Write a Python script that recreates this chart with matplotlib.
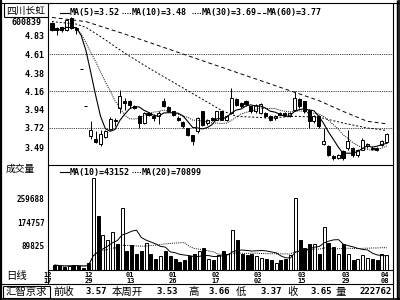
import matplotlib

matplotlib.use("Agg")

import matplotlib.pyplot as plt  # noqa: E402
import numpy as np  # noqa: E402
import pandas as pd  # noqa: E402

MONO = ["DejaVu Sans Mono", "Noto Sans CJK SC"]
CJK = ["Noto Sans CJK SC", "DejaVu Sans"]

# Daily candles, one entry per trading day (left to right).
opens = [4.98, 4.92, 4.93, 4.90, 5.04, 4.92, 4.43, 3.99, 3.62, 3.59,
         3.53, 3.61, 3.71, 3.82, 3.96, 4.05, 4.04, 3.99, 3.86, 3.78,
         3.90, 3.86, 3.86, 4.05, 3.97, 3.92, 3.84, 3.79, 3.72, 3.64,
         3.68, 3.92, 3.78, 3.84, 3.82, 3.92, 3.81, 3.90, 4.07, 4.02,
         4.05, 3.98, 3.92, 3.90, 3.90, 3.86, 3.84, 3.90, 3.90, 3.86,
         3.94, 4.07, 4.04, 3.94, 3.80, 3.86, 3.53, 3.50, 3.38, 3.36,
         3.44, 3.48, 3.48, 3.40, 3.46, 3.50, 3.48, 3.48, 3.52, 3.55]
closes = [4.90, 4.90, 4.90, 5.02, 4.92, 4.90, 4.43, 3.99, 3.69, 3.55,
          3.65, 3.68, 3.83, 3.80, 4.10, 4.02, 4.00, 3.96, 3.78, 3.90,
          3.88, 3.84, 3.90, 3.98, 3.92, 3.87, 3.82, 3.74, 3.64, 3.56,
          3.84, 3.76, 3.82, 3.82, 3.92, 3.82, 3.86, 4.08, 4.00, 3.98,
          4.01, 3.92, 4.00, 4.01, 3.86, 3.82, 3.86, 3.88, 3.87, 3.90,
          4.08, 3.98, 3.92, 3.80, 3.86, 3.74, 3.56, 3.40, 3.36, 3.40,
          3.36, 3.56, 3.40, 3.46, 3.58, 3.53, 3.47, 3.46, 3.56, 3.65]
highs = [4.99, 4.93, 4.94, 5.03, 5.05, 4.93, 4.43, 3.99, 3.80, 3.68,
         3.70, 3.70, 3.85, 3.84, 4.18, 4.08, 4.06, 4.00, 3.87, 3.91,
         3.91, 3.89, 3.92, 4.08, 3.98, 3.93, 3.86, 3.80, 3.72, 3.64,
         3.85, 3.93, 3.83, 3.85, 3.93, 3.93, 3.87, 4.20, 4.08, 4.03,
         4.06, 3.99, 4.01, 4.02, 3.91, 3.87, 3.87, 3.91, 3.91, 3.91,
         4.16, 4.08, 4.05, 3.95, 3.87, 3.87, 3.72, 3.51, 3.39, 3.41,
         3.45, 3.70, 3.49, 3.47, 3.60, 3.54, 3.50, 3.49, 3.57, 3.66]
lows = [4.89, 4.84, 4.88, 4.89, 4.91, 4.85, 4.43, 3.99, 3.59, 3.54,
        3.50, 3.60, 3.70, 3.74, 3.90, 3.94, 3.96, 3.95, 3.72, 3.77,
        3.86, 3.80, 3.77, 3.97, 3.91, 3.86, 3.80, 3.72, 3.62, 3.52,
        3.66, 3.74, 3.76, 3.80, 3.81, 3.81, 3.80, 3.89, 3.98, 3.96,
        3.99, 3.90, 3.90, 3.89, 3.84, 3.80, 3.82, 3.87, 3.86, 3.85,
        3.92, 3.96, 3.90, 3.72, 3.78, 3.72, 3.51, 3.38, 3.34, 3.35,
        3.34, 3.46, 3.37, 3.37, 3.45, 3.48, 3.45, 3.44, 3.50, 3.54]
volumes = [18, 14, 12, 16, 20, 14, 8, 25, 336, 197,
           128, 110, 140, 95, 225, 70, 90, 60, 70, 100,
           60, 40, 50, 70, 50, 40, 30, 35, 50, 60,
           70, 80, 40, 35, 55, 70, 60, 146, 110, 60,
           55, 60, 50, 45, 40, 35, 25, 35, 40, 55,
           262, 110, 80, 95, 95, 60, 158, 100, 85, 60,
           95, 60, 35, 40, 55, 45, 40, 35, 60, 55]  # thousand shares

# Longer moving averages (index, value).
ma30_idx = [0, 5, 7, 10, 15, 20, 25, 30, 35, 38, 45, 50, 55, 60, 65, 69]
ma30_val = [5.00, 4.97, 4.93, 4.82, 4.62, 4.44, 4.27, 4.10, 3.93, 3.86,
            3.84, 3.86, 3.85, 3.78, 3.72, 3.69]
ma60_idx = [0, 7, 15, 25, 35, 45, 55, 60, 65, 69]
ma60_val = [5.05, 5.00, 4.85, 4.65, 4.45, 4.25, 4.05, 3.92, 3.80, 3.77]

price_ticks = [4.83, 4.61, 4.38, 4.16, 3.94, 3.72, 3.49]
price_grid = [4.61, 4.16, 3.72]
volume_ticks = [259688, 174757, 89825]
date_pos = [-1.4, 7.0, 15.7, 24.5, 33.4, 42.3, 51.3, 60.6, 68.7]
date_labels = ["12\n17", "12\n29", "01\n13", "01\n26", "02\n17",
               "03\n02", "03\n15", "03\n29", "04\n08"]

legend_price = ["MA(5)=3.52", "MA(10)=3.48", "MA(30)=3.69", "MA(60)=3.77"]
legend_volume = ["MA(10)=43152", "MA(20)=70899"]
status_items = [("前收", "3.57"), ("本周开", "3.53"), ("高", "3.66"),
                ("低", "3.37"), ("收", "3.65"), ("量", "222762")]

W, H = 400, 300


def rect(x0, y0, x1, y1):
    """Figure-fraction rectangle from pixel box (origin top-left)."""
    return [x0 / W, 1 - y1 / H, (x1 - x0) / W, (y1 - y0) / H]


fig = plt.figure(figsize=(4, 3), dpi=100, facecolor="white")

# pixel geometry of the panels
PX0, PX1 = 48, 393
STEP, FIRST = 4.85, 52
xlim = ((PX0 - FIRST) / STEP, (PX1 - FIRST) / STEP)

o = np.array(opens)
c = np.array(closes)
h = np.array(highs)
lo = np.array(lows)
v = np.array(volumes) * 1000.0
x = np.arange(len(c))
up = c > o
flat = c == o
down = c < o

# ---- price panel
ax = fig.add_axes(rect(PX0, 3, PX1, 165))
ax.set_xlim(*xlim)
ax.set_ylim(4.61 - (165 - 54) / 83.1, 4.61 + (54 - 3) / 83.1)
for level in price_grid:
    ax.axhline(level, color="black", lw=0.6, ls=(0, (1, 1.2)), zorder=1)

ax.vlines(x, lo, h, color="black", lw=0.7, zorder=2)
ax.bar(x[up], (c - o)[up], bottom=o[up], width=0.62, facecolor="white",
       edgecolor="black", lw=0.7, zorder=3)
ax.bar(x[down], (o - c)[down], bottom=c[down], width=0.62, facecolor="black",
       edgecolor="black", lw=0.7, zorder=3)
ax.hlines(c[flat], x[flat] - 0.31, x[flat] + 0.31, color="black", lw=0.8, zorder=3)

closes_s = pd.Series(c)
ax.plot(x, closes_s.rolling(5, min_periods=1).mean(), color="black", lw=0.8, zorder=4)
ax.plot(x, closes_s.rolling(10, min_periods=1).mean(), color="black", lw=0.7,
        ls=(0, (1, 1.2)), zorder=4)
ax.plot(ma30_idx, ma30_val, color="black", lw=0.7, ls=(0, (2, 2)), zorder=4)
ax.plot(ma60_idx, ma60_val, color="black", lw=0.7, ls=(0, (4, 3)), zorder=4)

ax.set_xticks([])
ax.set_yticks(price_ticks)
ax.set_yticklabels([f"{t:.2f}" for t in price_ticks], family=MONO,
                   fontsize=6, fontweight="bold")
ax.tick_params(axis="y", length=0, pad=2.5)
for side in ax.spines.values():
    side.set_visible(False)

# ---- volume panel
axv = fig.add_axes(rect(PX0, 165, PX1, 270))
axv.set_xlim(*xlim)
axv.set_ylim(0, 105 * 3645)
axv.bar(x[up], v[up], width=0.62, facecolor="white", edgecolor="black", lw=0.7)
axv.bar(x[~up], v[~up], width=0.62, facecolor="black", edgecolor="black", lw=0.7)
vol_s = pd.Series(v)
axv.plot(x, vol_s.rolling(10, min_periods=1).mean(), color="black", lw=0.7)
axv.plot(x, vol_s.rolling(20, min_periods=1).mean(), color="black", lw=0.7,
         ls=(0, (1, 1.2)))
axv.set_yticks(volume_ticks)
axv.set_yticklabels([str(t) for t in volume_ticks], family=MONO,
                    fontsize=5.5, fontweight="bold")
axv.set_xticks(date_pos)
axv.set_xticklabels(date_labels, family=MONO, fontsize=5, fontweight="bold",
                    linespacing=0.95)
axv.tick_params(axis="y", length=0, pad=2.5)
axv.tick_params(axis="x", length=0, pad=1.5)
for side in axv.spines.values():
    side.set_visible(False)

# ---- overlay with frames and fixed texts (pixel coordinates)
ov = fig.add_axes([0, 0, 1, 1])
ov.set_xlim(0, W)
ov.set_ylim(H, 0)
ov.axis("off")
ov.patch.set_visible(False)


def line(x0, y0, x1, y1, lw=0.8):
    ov.plot([x0, x1], [y0, y1], color="black", lw=lw, solid_capstyle="butt")


line(0.8, 0, 0.8, H, lw=1.6)
line(0, 2.5, W, 2.5)
line(0, 299.3, W, 299.3, lw=1.2)
line(PX0, 2.5, PX0, 284)
line(PX0, 165, PX1, 165)
line(PX0, 270, PX1, 270)
line(PX1, 2.5, PX1, 299)
line(396.5, 0, 396.5, H, lw=1.0)
line(399.4, 0, 399.4, H, lw=1.2)
line(0, 284, PX1, 284)
# stock name box
line(4, 2.5, 4, 17)
line(4, 17, PX0, 17)
# status name box
line(3, 285.5, 50, 285.5)
line(3, 297.5, 50, 297.5)
line(3, 285.5, 3, 297.5)
line(50, 285.5, 50, 297.5)

ov.text(25.5, 10.5, "四川长虹", family=CJK, fontsize=7, ha="center", va="center")
ov.text(27, 22.5, "600839", family=MONO, fontsize=6, fontweight="bold",
        ha="center", va="center")
ov.text(6, 168.5, "成交量", family=CJK, fontsize=7, ha="left", va="center")
ov.text(6, 276, "日线", family=CJK, fontsize=7.5, ha="left", va="center")

# price legend
leg_x = [60, 122, 192, 257]
leg_style = ["-", (0, (1, 1.2)), (0, (1, 1.2)), (0, (3, 2))]
for lx, style, label in zip(leg_x, leg_style, legend_price):
    ov.plot([lx, lx + 9], [13, 13], color="black", lw=0.8, ls=style)
    ov.text(lx + 10, 13, label, family=MONO, fontsize=6, fontweight="bold",
            ha="left", va="center")

# volume legend
for lx, style, label in zip([60, 132], ["-", (0, (1, 1.2))], legend_volume):
    ov.plot([lx, lx + 9], [172, 172], color="black", lw=0.8, ls=style)
    ov.text(lx + 10, 172, label, family=MONO, fontsize=6, fontweight="bold",
            ha="left", va="center")

# status bar
ov.text(26.5, 291.5, "汇智京求", family=CJK, fontsize=7.5, ha="center", va="center")
name_x = [53, 112, 188, 236, 287, 336]
value_right = [107, 178, 230, 282, 332, 392]
for nx, vr, (name, value) in zip(name_x, value_right, status_items):
    ov.text(nx, 291.5, name, family=CJK, fontsize=7.5, ha="left", va="center")
    ov.text(vr, 291.5, value, family=MONO, fontsize=6.5, fontweight="bold",
            ha="right", va="center")

fig.savefig("out.png", dpi=100, facecolor="white")
